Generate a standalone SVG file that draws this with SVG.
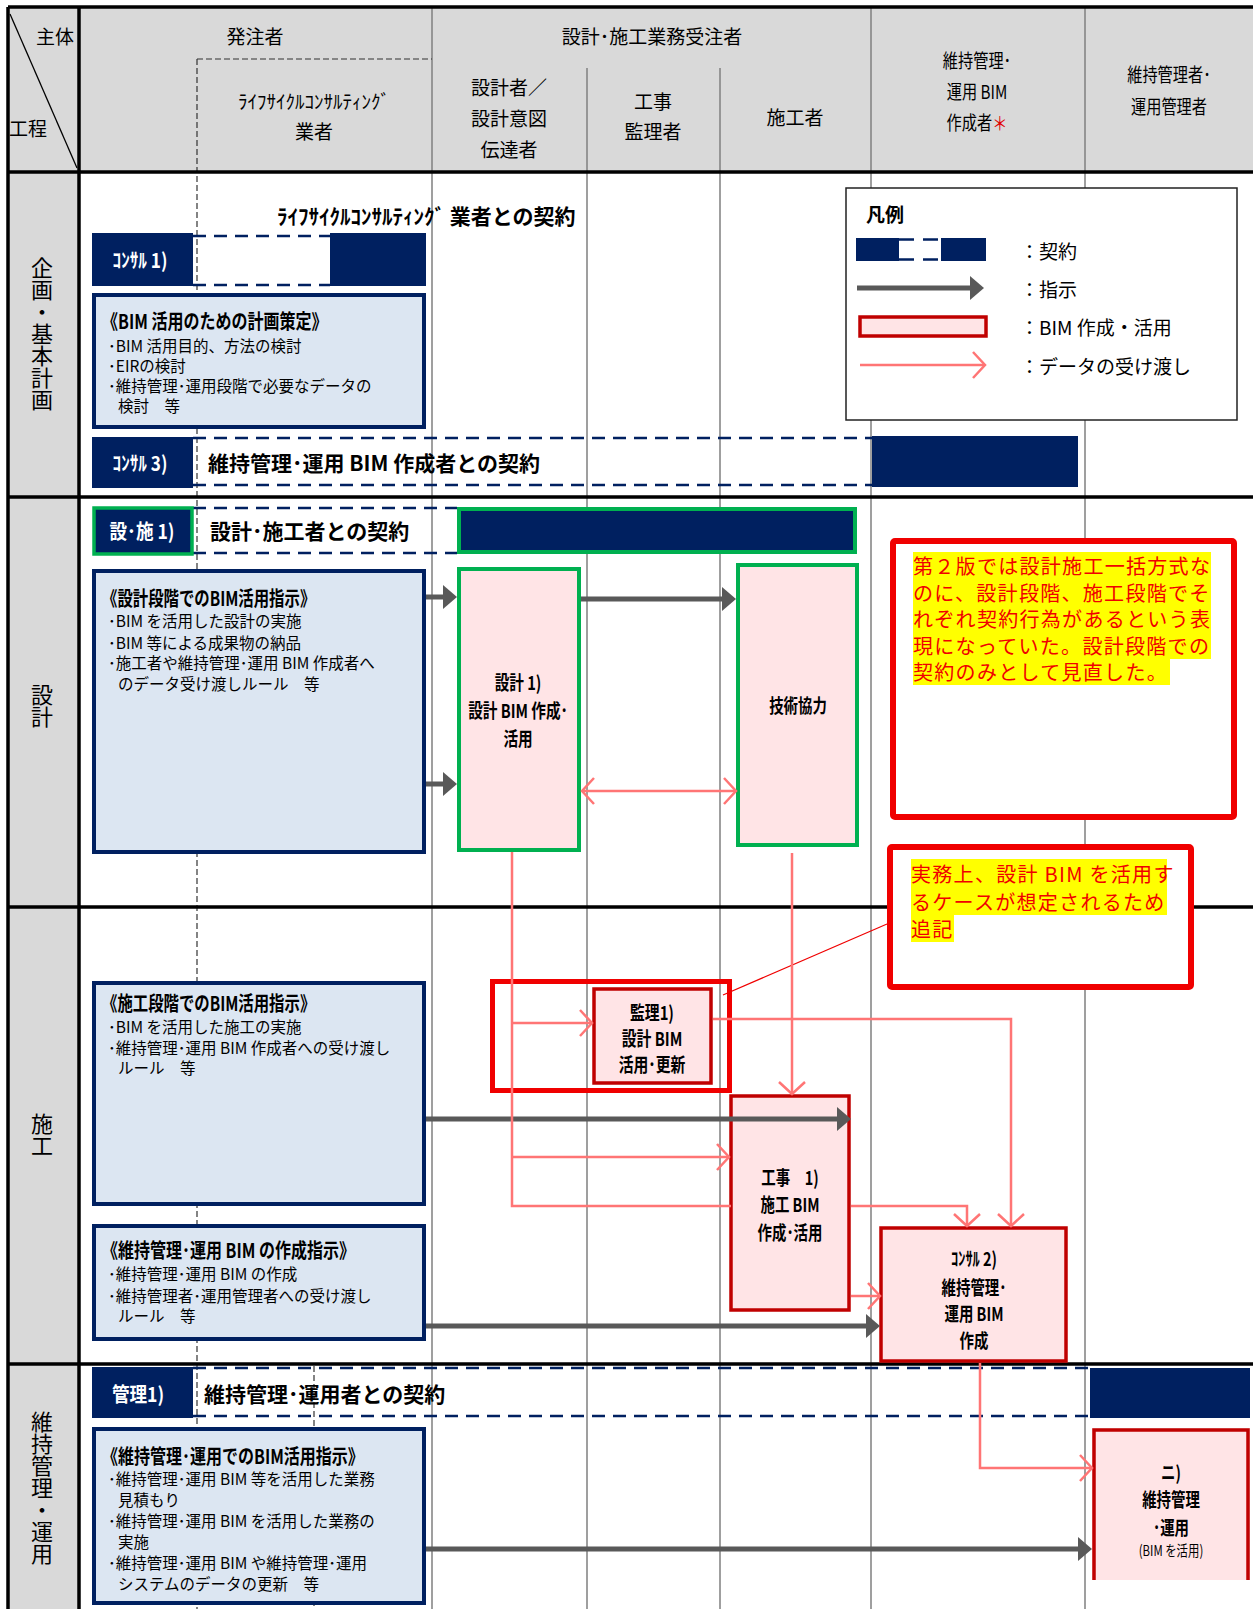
<svg xmlns="http://www.w3.org/2000/svg" width="1253" height="1609" viewBox="0 0 1253 1609">
<style>
text{font-family:"Noto Sans CJK JP","Noto Sans",sans-serif;dominant-baseline:central;fill:#000}
.c{text-anchor:middle}
.h{font-size:19px}
.hs{font-size:19px;text-anchor:middle}
.stage{font-size:22px;writing-mode:vertical-rl;text-anchor:middle}
.tag{font-size:20px;font-weight:bold;fill:#fff;text-anchor:middle}
.ct{font-size:21px;font-weight:bold}
.bt{font-size:20px;font-weight:bold}
.bl{font-size:15.5px}
.nl{font-size:19px;font-weight:bold;text-anchor:middle}
.lg{font-size:19px}
.an{font-size:20px;letter-spacing:1.3px;fill:#f00000}
.grid{stroke:#7f7f7f;stroke-width:1.5}
.thick{stroke:#000;stroke-width:3.5}
.vd{stroke:#333;stroke-width:1.2;stroke-dasharray:6 3}
.dash{stroke:#002060;stroke-width:2.5;stroke-dasharray:13 8;fill:none}
.navy{fill:#002060}
.blue{fill:#dce6f2;stroke:#002060;stroke-width:4}
.pinkg{fill:#ffe4e6;stroke:#00b050;stroke-width:4}
.pinkr{fill:#ffe4e6;stroke:#c00000;stroke-width:3.5}
.arr{stroke:#595959;stroke-width:5;fill:none}
.dl{stroke:#ff7575;stroke-width:2.5;fill:none}
.annot{fill:#fff;stroke:#f00000;stroke-width:6}
.hl{fill:#ffff00}
</style>
<defs>
<marker id="ga" markerUnits="userSpaceOnUse" markerWidth="14" markerHeight="26" viewBox="0 -13 14 26" refX="4" refY="0" orient="auto">
<path d="M0,-12 L14,0 L0,12 Z" fill="#595959"/>
</marker>
<marker id="pa" markerUnits="userSpaceOnUse" markerWidth="18" markerHeight="32" viewBox="-15 -16 18 32" refX="0" refY="0" orient="auto-start-reverse" overflow="visible">
<path d="M-12,-13 L0,0 L-12,13" fill="none" stroke="#ff7575" stroke-width="2.5"/>
</marker>
</defs>

<rect x="0" y="0" width="1253" height="1609" fill="#fff"/>

<g id="grid">
<rect x="8" y="7" width="1245" height="165" fill="#d9d9d9"/>
<rect x="8" y="172" width="71" height="1437" fill="#d9d9d9"/>
<line class="grid" x1="432" y1="7" x2="432" y2="1609"/>
<line class="grid" x1="871" y1="7" x2="871" y2="1609"/>
<line class="grid" x1="1085" y1="7" x2="1085" y2="1609"/>
<line class="grid" x1="587" y1="68" x2="587" y2="1609"/>
<line class="grid" x1="720" y1="68" x2="720" y2="1609"/>
<line class="vd" x1="197" y1="59" x2="197" y2="1609"/>
<line class="vd" x1="197" y1="59" x2="432" y2="59"/>
<line class="vd" x1="314" y1="1366" x2="314" y2="1609"/>
<line x1="10" y1="14" x2="77" y2="168" stroke="#000" stroke-width="1.3"/>
<line class="thick" x1="8" y1="7" x2="1253" y2="7" stroke-width="4"/>
<line class="thick" x1="8" y1="7" x2="8" y2="1609"/>
<line class="thick" x1="79" y1="7" x2="79" y2="1609"/>
<line class="thick" x1="8" y1="172" x2="1253" y2="172"/>
<line class="thick" x1="8" y1="497" x2="1253" y2="497"/>
<line class="thick" x1="8" y1="907" x2="1253" y2="907"/>
<line class="thick" x1="8" y1="1364" x2="1253" y2="1364"/>
</g>

<g id="header">
<text class="h" x="74" y="35" text-anchor="end">主体</text>
<text class="h" x="9" y="127">工程</text>
<text class="h c" x="255" y="35">発注者</text>
<text class="h c" x="652" y="35">設計･施工業務受注者</text>
<text class="h c" x="314" y="100">ﾗｲﾌｻｲｸﾙｺﾝｻﾙﾃｨﾝｸﾞ</text>
<text class="h c" x="314" y="130">業者</text>
<text class="h c" x="509" y="86">設計者／</text>
<text class="h c" x="509" y="117">設計意図</text>
<text class="h c" x="509" y="148">伝達者</text>
<text class="h c" x="653" y="100">工事</text>
<text class="h c" x="653" y="130">監理者</text>
<text class="h c" x="795" y="116">施工者</text>
<g transform="translate(977,0) scale(0.8,1)">
<text class="hs" x="0" y="60">維持管理･</text>
<text class="hs" x="0" y="91">運用 BIM</text>
<text class="hs" x="0" y="122">作成者<tspan fill="#e00000">＊</tspan></text>
</g>
<g transform="translate(1169,0) scale(0.8,1)">
<text class="hs" x="0" y="74">維持管理者･</text>
<text class="hs" x="0" y="106">運用管理者</text>
</g>
</g>

<g id="stages">
<text class="stage" x="42" y="334">企画・基本計画</text>
<text class="stage" x="42" y="706">設計</text>
<text class="stage" x="42" y="1135">施工</text>
<text class="stage" x="42" y="1488">維持管理・運用</text>
</g>

<g id="contract-consul1">
<text class="ct" x="277" y="215">ﾗｲﾌｻｲｸﾙｺﾝｻﾙﾃｨﾝｸﾞ 業者との契約</text>
<line class="dash" x1="193" y1="236" x2="330" y2="236"/>
<line class="dash" x1="193" y1="285" x2="330" y2="285"/>
<rect class="navy" x="330" y="233" width="96" height="53"/>
<rect class="navy" x="92" y="233" width="101" height="53"/>
<g transform="translate(140,0) scale(0.86,1)"><text class="tag" x="0" y="259">ｺﾝｻﾙ 1)</text></g>
</g>

<g id="plan-box">
<rect class="blue" x="94" y="295" width="330" height="132"/>
<g transform="translate(102,0) scale(0.8,1)"><text class="bt" x="0" y="320">《BIM 活用のための計画策定》</text></g>
<text class="bl" x="108" y="345">･BIM 活用目的、方法の検討</text>
<text class="bl" x="108" y="365">･EIRの検討</text>
<text class="bl" x="108" y="385">･維持管理･運用段階で必要なデータの</text>
<text class="bl" x="118" y="405">検討　等</text>
</g>

<g id="contract-consul3">
<line class="dash" x1="193" y1="438" x2="872" y2="438"/>
<line class="dash" x1="193" y1="485" x2="872" y2="485"/>
<rect class="navy" x="872" y="436" width="206" height="51"/>
<rect class="navy" x="92" y="437" width="101" height="51"/>
<g transform="translate(140,0) scale(0.86,1)"><text class="tag" x="0" y="462">ｺﾝｻﾙ 3)</text></g>
<text class="ct" x="208" y="462">維持管理･運用 BIM 作成者との契約</text>
</g>

<g id="legend">
<rect x="846" y="188" width="391" height="232" fill="#fff" stroke="#222" stroke-width="1.5"/>
<text class="lg" x="866" y="213" font-weight="bold">凡例</text>
<rect class="navy" x="856" y="238" width="43" height="23"/>
<rect class="navy" x="941" y="238" width="45" height="23"/>
<line x1="899" y1="239.5" x2="941" y2="239.5" stroke="#002060" stroke-width="2.5" stroke-dasharray="15 9"/>
<line x1="899" y1="259.5" x2="941" y2="259.5" stroke="#002060" stroke-width="2.5" stroke-dasharray="15 9"/>
<text class="lg" x="1020" y="250">：契約</text>
<line class="arr" x1="857" y1="288" x2="974" y2="288" marker-end="url(#ga)"/>
<text class="lg" x="1020" y="288">：指示</text>
<rect class="pinkr" x="860" y="317" width="126" height="19"/>
<text class="lg" x="1020" y="326">：BIM 作成・活用</text>
<line class="dl" x1="860" y1="365" x2="985" y2="365" marker-end="url(#pa)"/>
<text class="lg" x="1020" y="365">：データの受け渡し</text>
</g>

<g id="contract-design">
<line class="dash" x1="193" y1="508" x2="457" y2="508"/>
<line class="dash" x1="193" y1="553" x2="457" y2="553"/>
<rect class="navy" x="459" y="509" width="396" height="43" stroke="#00b050" stroke-width="4"/>
<rect class="navy" x="94" y="508" width="98" height="46" stroke="#00b050" stroke-width="3.5"/>
<g transform="translate(142,0) scale(0.88,1)"><text class="tag" x="0" y="530">設･施 1)</text></g>
<text class="ct" x="210" y="530">設計･施工者との契約</text>
</g>

<g id="design-instr">
<rect class="blue" x="94" y="571" width="330" height="281"/>
<g transform="translate(102,0) scale(0.77,1)"><text class="bt" x="0" y="597">《設計段階でのBIM活用指示》</text></g>
<text class="bl" x="108" y="620">･BIM を活用した設計の実施</text>
<text class="bl" x="108" y="642">･BIM 等による成果物の納品</text>
<text class="bl" x="108" y="662">･施工者や維持管理･運用 BIM 作成者へ</text>
<text class="bl" x="118" y="683">のデータ受け渡しルール　等</text>
</g>

<g id="design1">
<rect class="pinkg" x="459" y="569" width="120" height="281"/>
<g transform="translate(518,0) scale(0.77,1)">
<text class="nl" x="0" y="682">設計 1)</text>
<text class="nl" x="0" y="710">設計 BIM 作成･</text>
<text class="nl" x="0" y="738">活用</text>
</g>
</g>

<g id="tech-coop">
<rect class="pinkg" x="738" y="565" width="119" height="280"/>
<g transform="translate(798,0) scale(0.76,1)"><text class="nl" x="0" y="705">技術協力</text></g>
</g>

<g id="note1">
<rect class="annot" x="893" y="541" width="341" height="276" rx="2"/>
<rect class="hl" x="913" y="552" width="298" height="107"/>
<rect class="hl" x="913" y="659" width="257" height="26"/>
<text class="an"><tspan x="913" y="565">第２版では設計施工一括方式な</tspan><tspan x="913" y="591.5">のに、設計段階、施工段階でそ</tspan><tspan x="913" y="618">れぞれ契約行為があるという表</tspan><tspan x="913" y="644.5">現になっていた。設計段階での</tspan><tspan x="913" y="671">契約のみとして見直した。</tspan></text>
</g>

<g id="const-instr">
<rect class="blue" x="94" y="983" width="330" height="221"/>
<g transform="translate(102,0) scale(0.77,1)"><text class="bt" x="0" y="1002">《施工段階でのBIM活用指示》</text></g>
<text class="bl" x="108" y="1026">･BIM を活用した施工の実施</text>
<text class="bl" x="108" y="1047">･維持管理･運用 BIM 作成者への受け渡し</text>
<text class="bl" x="118" y="1067">ルール　等</text>
</g>

<g id="fm-bim-instr">
<rect class="blue" x="94" y="1226" width="330" height="113"/>
<g transform="translate(102,0) scale(0.8,1)"><text class="bt" x="0" y="1249">《維持管理･運用 BIM の作成指示》</text></g>
<text class="bl" x="108" y="1273">･維持管理･運用 BIM の作成</text>
<text class="bl" x="108" y="1295">･維持管理者･運用管理者への受け渡し</text>
<text class="bl" x="118" y="1315">ルール　等</text>
</g>

<g id="supervision1">
<rect x="492.5" y="981.5" width="237" height="109" fill="none" stroke="#f00000" stroke-width="5"/>
<rect class="pinkr" x="594" y="989" width="117" height="94"/>
<g transform="translate(652,0) scale(0.78,1)">
<text class="nl" x="0" y="1012" font-size="16">監理1)</text>
<text class="nl" x="0" y="1038" font-size="16">設計 BIM</text>
<text class="nl" x="0" y="1064" font-size="16">活用･更新</text>
</g>
</g>

<g id="construction1">
<rect class="pinkr" x="731" y="1096" width="118" height="214"/>
<g transform="translate(790,0) scale(0.76,1)">
<text class="nl" x="0" y="1177">工事　1)</text>
<text class="nl" x="0" y="1204">施工 BIM</text>
<text class="nl" x="0" y="1232">作成･活用</text>
</g>
</g>

<g id="consul2">
<rect class="pinkr" x="881" y="1228" width="185" height="133"/>
<g transform="translate(974,0) scale(0.76,1)">
<text class="nl" x="0" y="1258">ｺﾝｻﾙ 2)</text>
<text class="nl" x="0" y="1287">維持管理･</text>
<text class="nl" x="0" y="1313">運用 BIM</text>
<text class="nl" x="0" y="1340">作成</text>
</g>
</g>

<g id="note2">
<rect class="annot" x="890" y="847" width="301" height="140" rx="2"/>
<rect class="hl" x="911" y="859" width="256" height="56"/>
<rect class="hl" x="911" y="915" width="43" height="27"/>
<text class="an"><tspan x="911" y="873">実務上、設計 BIM を活用す</tspan><tspan x="911" y="901">るケースが想定されるため</tspan><tspan x="911" y="928">追記</tspan></text>
<line x1="887" y1="924" x2="723" y2="995" stroke="#f00000" stroke-width="1.2"/>
</g>

<g id="contract-fm">
<line class="dash" x1="193" y1="1368" x2="1090" y2="1368"/>
<line class="dash" x1="193" y1="1416" x2="1090" y2="1416"/>
<rect class="navy" x="1090" y="1368" width="160" height="50"/>
<rect class="navy" x="92" y="1367" width="101" height="51"/>
<g transform="translate(138,0) scale(0.88,1)"><text class="tag" x="0" y="1393">管理1)</text></g>
<text class="ct" x="204" y="1393">維持管理･運用者との契約</text>
</g>

<g id="fm-instr">
<rect class="blue" x="94" y="1429" width="330" height="174"/>
<g transform="translate(102,0) scale(0.8,1)"><text class="bt" x="0" y="1455">《維持管理･運用でのBIM活用指示》</text></g>
<text class="bl" x="108" y="1478">･維持管理･運用 BIM 等を活用した業務</text>
<text class="bl" x="118" y="1499">見積もり</text>
<text class="bl" x="108" y="1520">･維持管理･運用 BIM を活用した業務の</text>
<text class="bl" x="118" y="1541">実施</text>
<text class="bl" x="108" y="1562">･維持管理･運用 BIM や維持管理･運用</text>
<text class="bl" x="118" y="1583">システムのデータの更新　等</text>
</g>

<g id="fm-operation">
<rect x="1092" y="1428" width="158" height="152" fill="#ffe4e6"/>
<path d="M1094,1580 V1430 H1248 V1580" fill="none" stroke="#c00000" stroke-width="3.5"/>
<g transform="translate(1171,0) scale(0.76,1)">
<text class="nl" x="0" y="1472">ニ)</text>
<text class="nl" x="0" y="1499">維持管理</text>
<text class="nl" x="0" y="1527">･運用</text>
<text class="c" x="0" y="1550" font-size="15">(BIM を活用)</text>
</g>
</g>

<g id="connectors">
<line class="arr" x1="426" y1="597" x2="447" y2="597" marker-end="url(#ga)"/>
<line class="arr" x1="426" y1="784" x2="447" y2="784" marker-end="url(#ga)"/>
<line class="arr" x1="581" y1="599" x2="726" y2="599" marker-end="url(#ga)"/>
<line class="arr" x1="426" y1="1119" x2="841" y2="1119" marker-end="url(#ga)"/>
<line class="arr" x1="426" y1="1326" x2="870" y2="1326" marker-end="url(#ga)"/>
<line class="arr" x1="426" y1="1549" x2="1082" y2="1549" marker-end="url(#ga)"/>
<polyline class="dl" points="512,852 512,1206 731,1206"/>
<line class="dl" x1="512" y1="1023" x2="592" y2="1023" marker-end="url(#pa)"/>
<line class="dl" x1="512" y1="1157" x2="729" y2="1157" marker-end="url(#pa)"/>
<line class="dl" x1="582" y1="791" x2="736" y2="791" marker-start="url(#pa)" marker-end="url(#pa)"/>
<line class="dl" x1="792" y1="853" x2="792" y2="1094" marker-end="url(#pa)"/>
<polyline class="dl" points="713,1019 1011,1019 1011,1226" marker-end="url(#pa)"/>
<polyline class="dl" points="851,1206 967,1206 967,1226" marker-end="url(#pa)"/>
<line class="dl" x1="851" y1="1296" x2="880" y2="1296" marker-end="url(#pa)"/>
<polyline class="dl" points="980,1363 980,1468 1092,1468" marker-end="url(#pa)"/>
</g>
</svg>
